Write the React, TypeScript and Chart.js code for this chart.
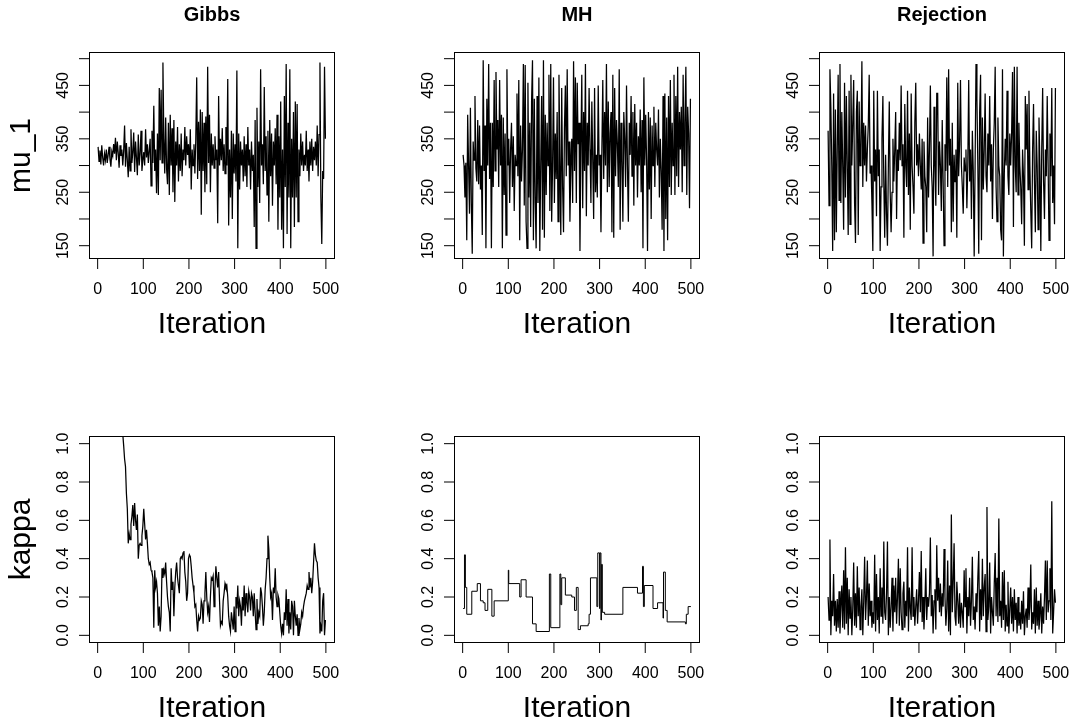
import React, { useEffect, useRef } from "react";
import { Chart, registerables } from "chart.js";
Chart.register(...registerables);

// Iteration numbers of the plotted draws (every 2nd iteration of 500)
const iterations: number[] = Array.from({ length: 250 }, (_, i) => 2 * i + 1);

const methods = ["Gibbs", "MH", "Rejection"];
const rowLabels = ["mu_1", "kappa"];
const xTicks = [0, 100, 200, 300, 400, 500];
const muTicks = [150, 200, 250, 300, 350, 400, 450, 500];
const muTickLabels = ["150", "", "250", "", "350", "", "450", ""];
const kappaTicks = [0, 0.2, 0.4, 0.6, 0.8, 1.0];
const kappaTickLabels = ["0.0", "0.2", "0.4", "0.6", "0.8", "1.0"];

const gibbsMu = [
  335, 308, 328, 302, 338, 315, 300, 322, 310, 330,
  305, 320, 335, 312, 298, 326, 318, 340, 322, 352,
  310, 345, 325, 296, 338, 318, 330, 300, 328, 375,
  298, 342, 310, 278, 335, 290, 368, 305, 325, 362,
  288, 345, 315, 282, 358, 300, 322, 365, 290, 310,
  325, 300, 368, 315, 340, 305, 328, 350, 262, 365,
  305, 412, 290, 330, 248, 360, 245, 445, 310, 442,
  305, 493, 350, 285, 390, 295, 265, 380, 245, 395,
  300, 370, 250, 385, 232, 345, 300, 372, 270, 340,
  290, 360, 280, 330, 310, 372, 300, 355, 320, 340,
  295, 368, 255, 330, 300, 340, 285, 350, 465, 275,
  382, 290, 405, 208, 400, 290, 380, 250, 392, 265,
  485, 305, 395, 250, 360, 300, 340, 295, 355, 310,
  330, 192, 430, 300, 350, 310, 370, 290, 340, 285,
  372, 300, 462, 188, 330, 240, 365, 200, 360, 285,
  340, 270, 478, 145, 360, 255, 345, 300, 330, 270,
  355, 280, 340, 260, 372, 300, 330, 255, 345, 290,
  320, 185, 385, 145, 408, 260, 345, 230, 480, 300,
  340, 265, 447, 290, 355, 245, 365, 195, 385, 280,
  360, 225, 345, 300, 370, 265, 395, 180, 355, 240,
  420, 180, 330, 145, 430, 260, 490, 172, 380, 240,
  480, 145, 350, 240, 400, 185, 420, 240, 415, 195,
  330, 280, 360, 300, 345, 290, 320, 300, 365, 290,
  330, 270, 345, 300, 350, 290, 335, 310, 345, 300,
  375, 280, 358, 493, 240, 153, 290, 275, 485, 350,
];

const mhMu = [
  320, 300, 240, 305, 160, 395, 300, 210, 408, 230,
  135, 345, 310, 430, 295, 270, 385, 265, 375, 255,
  300, 170, 497, 290, 375, 145, 425, 300, 490, 275,
  380, 145, 380, 260, 460, 290, 475, 330, 385, 260,
  460, 300, 395, 145, 390, 245, 360, 170, 480, 300,
  350, 230, 330, 380, 260, 355, 215, 320, 300, 435,
  280, 460, 160, 375, 270, 330, 490, 225, 488, 195,
  145, 455, 240, 380, 185, 420, 497, 160, 425, 230,
  145, 430, 230, 465, 140, 300, 430, 180, 497, 165,
  395, 245, 380, 300, 470, 215, 490, 195, 300, 465,
  230, 360, 275, 400, 195, 470, 310, 170, 445, 260,
  175, 370, 450, 280, 480, 300, 345, 195, 300, 350,
  230, 495, 290, 465, 230, 455, 340, 380, 140, 330,
  470, 220, 400, 290, 490, 205, 380, 300, 445, 330,
  230, 420, 310, 200, 445, 250, 320, 240, 450, 300,
  320, 175, 330, 460, 275, 400, 300, 490, 250, 420,
  260, 360, 400, 175, 470, 165, 445, 280, 385, 340,
  260, 480, 180, 380, 310, 195, 400, 350, 260, 450,
  300, 195, 380, 320, 430, 280, 400, 225, 415, 300,
  380, 240, 355, 300, 405, 250, 385, 145, 465, 300,
  395, 310, 140, 400, 255, 390, 200, 375, 300, 410,
  260, 380, 330, 300, 405, 240, 350, 290, 180, 430,
  140, 435, 200, 390, 160, 430, 260, 460, 245, 380,
  300, 470, 245, 430, 280, 485, 260, 400, 330, 410,
  250, 470, 300, 380, 485, 245, 410, 360, 220, 425,
];

const rejectionMu = [
  365, 225, 480, 410, 300, 140, 435, 160, 405, 175,
  330, 470, 235, 490, 230, 400, 300, 180, 455, 240,
  430, 300, 170, 440, 190, 470, 300, 380, 460, 230,
  155, 400, 440, 170, 420, 300, 330, 495, 260, 380,
  300, 375, 270, 330, 375, 470, 285, 300, 230, 140,
  440, 270, 330, 205, 440, 280, 330, 140, 260, 350,
  430, 270, 165, 320, 210, 150, 300, 420, 250, 175,
  250, 350, 270, 330, 400, 200, 330, 290, 380, 310,
  450, 300, 340, 165, 415, 300, 260, 440, 245, 360,
  180, 435, 300, 260, 210, 380, 455, 300, 340, 280,
  360, 300, 255, 350, 155, 345, 280, 260, 175, 390,
  240, 330, 450, 300, 260, 130, 410, 300, 225, 435,
  435, 245, 345, 300, 215, 385, 270, 150, 340, 290,
  465, 260, 480, 300, 350, 175, 380, 195, 320, 270,
  330, 165, 455, 280, 340, 460, 300, 260, 210, 315,
  290, 330, 220, 300, 460, 270, 330, 200, 365, 290,
  130, 300, 490, 425, 300, 135, 400, 470, 160, 390,
  255, 330, 435, 280, 250, 360, 300, 430, 270, 340,
  200, 330, 380, 485, 260, 195, 390, 300, 280, 180,
  160, 480, 130, 285, 350, 300, 440, 280, 245, 360,
  300, 360, 475, 185, 485, 300, 250, 485, 245, 380,
  300, 260, 190, 330, 280, 150, 430, 330, 415, 255,
  440, 300, 215, 145, 330, 415, 270, 175, 365, 300,
  180, 390, 300, 140, 330, 445, 270, 200, 330, 280,
  430, 300, 160, 360, 280, 445, 230, 300, 190, 445,
];

const gibbsKappa = [
  4.8, 4.5, 4.1, 3.9, 3.6, 3.4, 3.1, 2.9, 2.7, 2.6,
  2.4, 2.3, 2.1, 2.0, 1.9, 1.8, 1.7, 1.6, 1.5, 1.45,
  1.4, 1.35, 1.3, 1.26, 1.2, 1.15, 1.1, 1.05, 0.99, 0.92,
  0.88, 0.74, 0.66, 0.48, 0.53, 0.5, 0.58, 0.62, 0.68, 0.57,
  0.69, 0.6, 0.55, 0.63, 0.4, 0.47, 0.48, 0.47, 0.52, 0.57,
  0.66, 0.58, 0.5, 0.55, 0.48, 0.4, 0.37, 0.38, 0.34, 0.33,
  0.3, 0.04, 0.34, 0.25, 0.28, 0.22, 0.05, 0.15, 0.02, 0.1,
  0.35, 0.3, 0.34, 0.32, 0.38, 0.28, 0.2, 0.15, 0.12, 0.02,
  0.35, 0.24, 0.28, 0.1, 0.25, 0.33, 0.38, 0.3, 0.26, 0.22,
  0.4, 0.41, 0.4, 0.43, 0.44, 0.33, 0.28, 0.18, 0.22, 0.4,
  0.42, 0.41, 0.36, 0.3, 0.26, 0.22, 0.15, 0.16, 0.08, 0.02,
  0.1, 0.08, 0.09, 0.18, 0.16, 0.06, 0.18, 0.22, 0.33, 0.2,
  0.12, 0.15, 0.07, 0.2, 0.3, 0.29, 0.31, 0.15, 0.24, 0.36,
  0.3, 0.25, 0.33, 0.18, 0.05, 0.07, 0.06, 0.18, 0.22, 0.27,
  0.25, 0.26, 0.2, 0.1, 0.05, 0.02, 0.12, 0.08, 0.03, 0.15,
  0.02, 0.2, 0.14, 0.26, 0.1, 0.18, 0.15, 0.05, 0.2, 0.13,
  0.26, 0.1, 0.22, 0.17, 0.12, 0.23, 0.2, 0.13, 0.22, 0.2,
  0.1, 0.22, 0.12, 0.03, 0.19, 0.06, 0.12, 0.1, 0.25, 0.22,
  0.15, 0.05, 0.12, 0.24, 0.3, 0.4, 0.52, 0.45, 0.3, 0.2,
  0.22, 0.08, 0.25, 0.22, 0.35, 0.2, 0.15, 0.21, 0.19, 0.12,
  0.05, 0.01, 0.06, 0.0, 0.12, 0.08, 0.24, 0.05, 0.19, 0.01,
  0.12, 0.03, 0.18, 0.15, 0.0, 0.18, 0.1, 0.05, 0.11, 0.0,
  0.09, 0.03, 0.06, 0.12, 0.1, 0.15, 0.18, 0.2, 0.22, 0.26,
  0.24, 0.33, 0.25, 0.3, 0.22, 0.28, 0.38, 0.48, 0.42, 0.39,
  0.38, 0.3, 0.25, 0.01, 0.05, 0.02, 0.18, 0.22, 0.0, 0.08,
];

// MH kappa: iteration at which a new value was accepted, and that value
const mhKappaIter = [
  1, 4, 6, 9, 20, 32, 39, 45, 49, 55, 64, 69, 100, 101, 125, 128, 139, 153,
  161, 190, 193, 213, 215, 217, 225, 239, 245, 249, 253, 258, 275, 277, 280,
  294, 296, 300, 301, 303, 304, 306, 311, 351, 383, 394, 396, 398, 417, 427,
  439, 440, 444, 448, 488, 490, 494, 500,
];
const mhKappaValue = [
  0.14, 0.42, 0.25, 0.11, 0.23, 0.27, 0.18, 0.17, 0.13, 0.24, 0.1, 0.18, 0.34,
  0.27, 0.2, 0.29, 0.2, 0.06, 0.02, 0.32, 0.04, 0.32, 0.16, 0.3, 0.21, 0.2,
  0.13, 0.25, 0.03, 0.05, 0.06, 0.11, 0.3, 0.15, 0.43, 0.14, 0.43, 0.08, 0.37,
  0.12, 0.11, 0.25, 0.22, 0.36, 0.15, 0.26, 0.14, 0.17, 0.09, 0.33, 0.13, 0.07,
  0.06, 0.11, 0.15, 0.15,
];

const rejectionKappa = [
  0.2, 0.08, 0.5, 0.0, 0.18, 0.1, 0.32, 0.05, 0.18, 0.02,
  0.19, 0.04, 0.23, 0.01, 0.15, 0.26, 0.04, 0.34, 0.03, 0.46,
  0.06, 0.3, 0.0, 0.24, 0.09, 0.2, 0.0, 0.14, 0.38, 0.05,
  0.22, 0.04, 0.36, 0.1, 0.25, 0.03, 0.15, 0.24, 0.0, 0.18,
  0.41, 0.08, 0.2, 0.39, 0.05, 0.27, 0.1, 0.18, 0.04, 0.12,
  0.06, 0.42, 0.02, 0.32, 0.08, 0.2, 0.01, 0.35, 0.1, 0.25,
  0.06, 0.49, 0.12, 0.08, 0.22, 0.49, 0.0, 0.2, 0.04, 0.15,
  0.3, 0.02, 0.26, 0.12, 0.3, 0.06, 0.2, 0.4, 0.05, 0.35,
  0.12, 0.03, 0.22, 0.28, 0.04, 0.18, 0.1, 0.46, 0.02, 0.25,
  0.14, 0.08, 0.46, 0.1, 0.2, 0.05, 0.15, 0.24, 0.06, 0.18,
  0.33, 0.12, 0.44, 0.07, 0.2, 0.03, 0.16, 0.35, 0.08, 0.2,
  0.15, 0.22, 0.51, 0.1, 0.21, 0.01, 0.18, 0.24, 0.03, 0.47,
  0.18, 0.3, 0.12, 0.27, 0.1, 0.22, 0.15, 0.45, 0.2, 0.05,
  0.14, 0.39, 0.02, 0.26, 0.0, 0.63, 0.12, 0.27, 0.48, 0.1,
  0.05, 0.28, 0.18, 0.06, 0.22, 0.04, 0.17, 0.12, 0.04, 0.34,
  0.15, 0.35, 0.01, 0.2, 0.1, 0.3, 0.05, 0.18, 0.41, 0.08,
  0.15, 0.03, 0.22, 0.12, 0.3, 0.44, 0.02, 0.24, 0.08, 0.4,
  0.1, 0.25, 0.32, 0.02, 0.67, 0.08, 0.15, 0.38, 0.01, 0.2,
  0.12, 0.05, 0.27, 0.43, 0.1, 0.3, 0.07, 0.61, 0.1, 0.18,
  0.04, 0.33, 0.08, 0.34, 0.02, 0.16, 0.05, 0.28, 0.01, 0.14,
  0.25, 0.06, 0.2, 0.02, 0.24, 0.08, 0.17, 0.01, 0.2, 0.05,
  0.12, 0.03, 0.18, 0.06, 0.23, 0.0, 0.1, 0.14, 0.04, 0.25,
  0.08, 0.15, 0.37, 0.03, 0.12, 0.06, 0.24, 0.01, 0.25, 0.05,
  0.18, 0.03, 0.1, 0.22, 0.01, 0.15, 0.06, 0.2, 0.39, 0.08,
  0.39, 0.12, 0.18, 0.35, 0.08, 0.7, 0.01, 0.12, 0.24, 0.17,
];

const FONT = '"Liberation Sans", Arial, Helvetica, sans-serif';
const COL_LEFT = [89, 454, 819];
const ROW_TOP = [52, 436];
const BOX_W = 246;
const BOX_H = 207;
const PAD_L = 89;
const PAD_T = 52;
const PAD_R = 12;
const PAD_B = 84;

type PanelCfg = {
  row: number;
  col: number;
  points: { x: number; y: number }[];
  stepped: boolean;
};

function pairs(xs: number[], ys: number[]) {
  return xs.map((x, i) => ({ x, y: ys[i] }));
}

const panels: PanelCfg[] = [
  { row: 0, col: 0, points: pairs(iterations, gibbsMu), stepped: false },
  { row: 0, col: 1, points: pairs(iterations, mhMu), stepped: false },
  { row: 0, col: 2, points: pairs(iterations, rejectionMu), stepped: false },
  { row: 1, col: 0, points: pairs(iterations, gibbsKappa), stepped: false },
  { row: 1, col: 1, points: pairs(mhKappaIter, mhKappaValue), stepped: true },
  { row: 1, col: 2, points: pairs(iterations, rejectionKappa), stepped: false },
];

function makeAxesPlugin(cfg: PanelCfg) {
  return {
    id: "rAxes",
    afterDraw(chart: any) {
      const { ctx, chartArea: a, scales } = chart;
      const xs = scales.x;
      const ys = scales.y;
      ctx.save();
      ctx.strokeStyle = "#000";
      ctx.fillStyle = "#000";
      ctx.lineWidth = 1;
      ctx.strokeRect(a.left + 0.5, a.top + 0.5, a.right - a.left - 1, a.bottom - a.top - 1);

      // x axis ticks + labels
      ctx.font = `16px ${FONT}`;
      ctx.textAlign = "center";
      ctx.textBaseline = "alphabetic";
      xTicks.forEach((t) => {
        const px = xs.getPixelForValue(t);
        ctx.beginPath();
        ctx.moveTo(px, a.bottom);
        ctx.lineTo(px, a.bottom + 10);
        ctx.stroke();
        ctx.fillText(String(t), px, a.bottom + 35);
      });

      // y axis ticks + rotated labels
      const yT = cfg.row === 0 ? muTicks : kappaTicks;
      const yL = cfg.row === 0 ? muTickLabels : kappaTickLabels;
      yT.forEach((t, i) => {
        const py = ys.getPixelForValue(t);
        ctx.beginPath();
        ctx.moveTo(a.left, py);
        ctx.lineTo(a.left - 10, py);
        ctx.stroke();
        if (yL[i]) {
          ctx.save();
          ctx.translate(a.left - 21, py);
          ctx.rotate(-Math.PI / 2);
          ctx.textAlign = "center";
          ctx.fillText(yL[i], 0, 0);
          ctx.restore();
        }
      });

      const cx = (a.left + a.right) / 2;
      const cy = (a.top + a.bottom) / 2;
      // x axis title
      ctx.font = `30px ${FONT}`;
      ctx.textAlign = "center";
      ctx.fillText("Iteration", cx, a.bottom + 74);

      // y axis title (first column)
      if (cfg.col === 0) {
        ctx.save();
        ctx.translate(a.left - 59, cy);
        ctx.rotate(-Math.PI / 2);
        ctx.textAlign = "center";
        ctx.fillText(rowLabels[cfg.row], 0, 0);
        ctx.restore();
      }

      // panel title (first row)
      if (cfg.row === 0) {
        ctx.font = `bold 20px ${FONT}`;
        ctx.textAlign = "center";
        ctx.fillText(methods[cfg.col], cx, a.top - 31.5);
      }
      ctx.restore();
    },
  };
}

function Panel({ cfg }: { cfg: PanelCfg }) {
  const ref = useRef<HTMLCanvasElement | null>(null);
  const w = PAD_L + BOX_W + PAD_R;
  const h = PAD_T + BOX_H + PAD_B;
  useEffect(() => {
    if (!ref.current) return;
    const isMu = cfg.row === 0;
    const chart = new Chart(ref.current, {
      type: "line",
      data: {
        datasets: [
          {
            data: cfg.points,
            borderColor: "#000",
            borderWidth: cfg.stepped ? 1 : 1.25,
            pointRadius: 0,
            tension: 0,
            fill: false,
            stepped: cfg.stepped,
          },
        ],
      },
      options: {
        animation: false,
        responsive: false,
        maintainAspectRatio: false,
        devicePixelRatio: 1,
        events: [],
        layout: { padding: { left: PAD_L, top: PAD_T, right: PAD_R, bottom: PAD_B } },
        plugins: { legend: { display: false }, tooltip: { enabled: false }, title: { display: false } },
        scales: {
          x: { type: "linear", display: false, min: -18.96, max: 519.96 },
          y: {
            type: "linear",
            display: false,
            min: isMu ? 125.1 : -0.04,
            max: isMu ? 512.5 : 1.04,
          },
        },
      },
      plugins: [makeAxesPlugin(cfg)],
    } as any);
    return () => chart.destroy();
  }, [cfg]);
  return (
    <canvas
      ref={ref}
      width={w}
      height={h}
      style={{
        position: "absolute",
        left: COL_LEFT[cfg.col] - PAD_L,
        top: ROW_TOP[cfg.row] - PAD_T,
        width: w,
        height: h,
      }}
    />
  );
}

export default function App() {
  return (
    <div
      style={{
        position: "absolute",
        left: 0,
        top: 0,
        width: 1075,
        height: 722,
        overflow: "hidden",
        background: "#fff",
      }}
    >
      {panels.map((p, i) => (
        <Panel key={i} cfg={p} />
      ))}
    </div>
  );
}
